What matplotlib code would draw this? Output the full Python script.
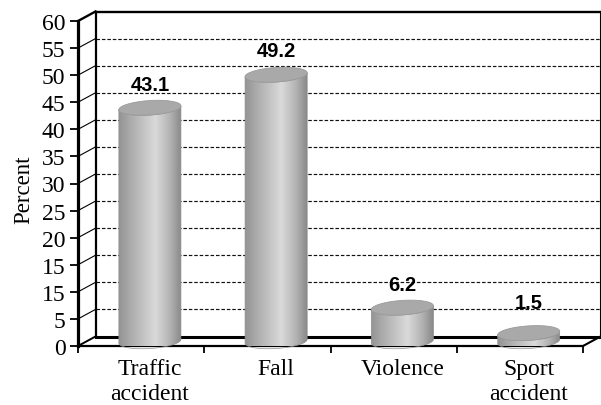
import numpy as np
import matplotlib
matplotlib.use('Agg')
import matplotlib.pyplot as plt
from matplotlib.patches import Polygon
from matplotlib.colors import LinearSegmentedColormap

# ---------------- data ----------------
categories = ['Traffic\naccident', 'Fall', 'Violence', 'Sport\naccident']
values = [43.1, 49.2, 6.2, 1.5]
value_labels = ['43.1', '49.2', '6.2', '1.5']
yticks = [0, 5, 10, 15, 20, 25, 30, 35, 40, 45, 50, 55, 60]
ytick_labels = ['0', '5', '15', '15', '20', '25', '30', '35', '40', '45', '50', '55', '60']
ylabel = 'Percent'

# ---------------- style / layout ----------------
W, H = 601, 406
L_PX, R_PX, T_PX, B_PX = 78, 583, 22, 347
label_gap_px = [10.7, 11, 10, 18]
n = len(categories)

fig = plt.figure(figsize=(W / 100, H / 100), dpi=100)
ax = fig.add_axes([L_PX / W, (H - B_PX) / H, (R_PX - L_PX) / W, (B_PX - T_PX) / H])
ymax = yticks[-1]
ax.set_xlim(0, n)
ax.set_ylim(0, ymax)
for s in ax.spines.values():
    s.set_visible(False)
ax.patch.set_visible(False)

ux = (R_PX - L_PX) / n          # px per x unit
uy = (B_PX - T_PX) / ymax       # px per y unit
DX = 17.5 / ux
DY = 9.5 / uy

K = dict(clip_on=False, solid_capstyle='projecting', color='black')

# back wall gridlines
for v in yticks[1:-1]:
    ax.plot([DX, n + DX], [v + DY, v + DY], ls=(0, (3.0, 1.6)), color='#111111',
            lw=0.85, clip_on=False, zorder=1)
# back wall frame
ax.plot([DX, n + DX], [ymax + DY, ymax + DY], lw=1.7, zorder=2, **K)
ax.plot([DX, DX], [DY, ymax + DY], lw=1.6, zorder=2, **K)
ax.plot([n + DX, n + DX], [DY, ymax + DY], lw=1.5, zorder=2, **K)
ax.plot([DX, n + DX], [DY, DY], lw=2.2, zorder=2, **K)
# left wall diagonals
for v in yticks:
    lw = 1.7 if v == ymax else (1.4 if v == 0 else 0.8)
    ax.plot([0, DX], [v, v + DY], lw=lw, zorder=2, clip_on=False, color='black')
# floor
ax.plot([0, n], [0, 0], lw=1.6, zorder=2, **K)
ax.plot([n, n + DX], [0, DY], lw=1.5, zorder=2, clip_on=False, color='black')
# front axis
ax.plot([0, 0], [0, ymax], lw=2.3, zorder=5, **K)

# ---------------- cylinders ----------------
r_px, hx_px, hy_px = 30.0, 8.0, 7.5
th_t = np.arctan2(hx_px, r_px)
stops = [(0.0, '#949494'), (0.15, '#a8a8a8'), (0.58, '#dadada'), (0.82, '#b2b2b2'), (1.0, '#888888')]
cmap = LinearSegmentedColormap.from_list('cyl', stops, N=512)


def ell(cx, cy, th):
    return (cx + (r_px * np.cos(th) + hx_px * np.sin(th)) / ux,
            cy + (hy_px * np.sin(th)) / uy)


for i, v in enumerate(values):
    cx = i + 0.5 + DX / 2
    yb = DY / 2
    yt = v + DY / 2
    th_front = np.linspace(th_t + np.pi, th_t + 2 * np.pi, 80)
    bx, by = ell(cx, yb, th_front)
    tx, ty = ell(cx, yt, th_front[::-1])
    body_xy = np.column_stack([np.concatenate([bx, tx]), np.concatenate([by, ty])])
    body = Polygon(body_xy, closed=True, facecolor='none', edgecolor='none', zorder=3)
    ax.add_patch(body)
    half = np.sqrt(r_px ** 2 + hx_px ** 2) / ux
    grad = np.linspace(0, 1, 64)[np.newaxis, :]
    im = ax.imshow(grad, cmap=cmap, extent=[cx - half, cx + half, yb - hy_px / uy - 0.5, yt + 0.5],
                   aspect='auto', interpolation='bicubic', zorder=3, origin='lower')
    im.set_clip_path(body)
    im.set_clip_box(None)
    ax.add_patch(Polygon(body_xy, closed=True, facecolor='none', edgecolor='#8e8e8e',
                         lw=0.5, zorder=3.5, clip_on=False))
    # top ellipse
    th_all = np.linspace(0, 2 * np.pi, 160)
    ex, ey = ell(cx, yt, th_all)
    ax.add_patch(Polygon(np.column_stack([ex, ey]), closed=True, facecolor='#a9a9a9',
                         edgecolor='#9a9a9a', lw=0.6, zorder=4, clip_on=False))
    # value label
    ax.annotate(value_labels[i], xy=(cx, yt), xytext=(0, (hy_px + label_gap_px[i]) * 0.72),
                textcoords='offset points', ha='center', va='baseline',
                fontfamily='Liberation Sans', fontweight='bold', fontsize=14.5, zorder=6,
                annotation_clip=False)

ax.set_xlim(0, n)
ax.set_ylim(0, ymax)

# ---------------- ticks ----------------
ax.set_yticks(yticks, ytick_labels, fontfamily='Liberation Serif', fontsize=17)
ax.tick_params(axis='y', direction='out', length=6, width=1.3, pad=3.0, color='black')
ax.set_xticks(range(n + 1), [''] * (n + 1))
ax.tick_params(axis='x', which='major', direction='out', length=5, width=1.3)
ax.set_xticks([i + 0.5 + DX / 2 for i in range(n)], categories, minor=True,
              fontfamily='Liberation Serif', fontsize=17)
ax.tick_params(axis='x', which='minor', length=0, pad=9)
for t in ax.get_xticklabels(minor=True):
    t.set_linespacing(1.2)

fig.text(24 / W, 1 - 190 / H, ylabel, rotation=90, ha='center', va='center',
         fontfamily='Liberation Serif', fontsize=16.5)

fig.savefig('out.png', dpi=100)
